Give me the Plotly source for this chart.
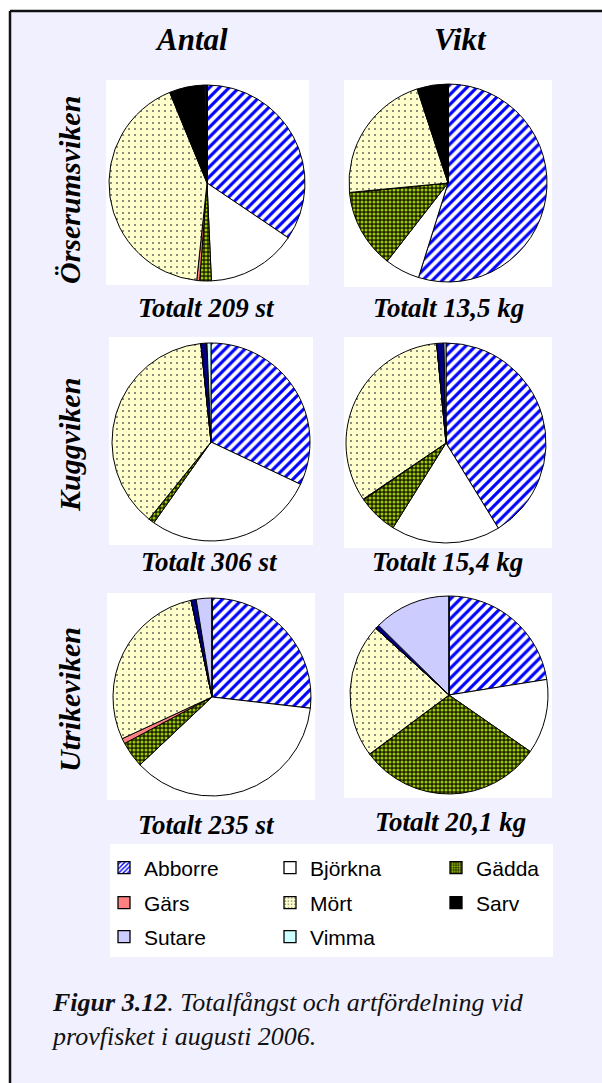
import plotly.graph_objects as go

W, H = 602, 1083

# ---------------- data ----------------
species = ["Abborre", "Björkna", "Gädda", "Gärs", "Mört", "Sarv", "Övriga", "Sutare", "Vimma"]
legend_species = ["Abborre", "Björkna", "Gädda", "Gärs", "Mört", "Sarv", "Sutare", "Vimma"]

antal_orserumsviken = [72, 31, 4, 1, 88, 12, 1, 0, 0]
vikt_orserumsviken = [7.40, 0.77, 1.74, 0.01, 2.90, 0.68, 0.0, 0.0, 0.0]
antal_kuggviken = [98, 85, 3, 0, 115, 0, 3, 0, 2]
vikt_kuggviken = [6.35, 2.72, 1.00, 0.02, 5.08, 0.0, 0.18, 0.0, 0.05]
antal_utrikeviken = [63, 85, 10, 2, 67, 0, 2, 6, 0]
vikt_utrikeviken = [4.52, 2.45, 6.05, 0.01, 4.41, 0.0, 0.13, 2.53, 0.0]

col_titles = ["Antal", "Vikt"]
row_titles = ["Örserumsviken", "Kuggviken", "Utrikeviken"]
totals = [["Totalt 209 st", "Totalt 13,5 kg"],
          ["Totalt 306 st", "Totalt 15,4 kg"],
          ["Totalt 235 st", "Totalt 20,1 kg"]]
caption = "<b>Figur 3.12</b>. Totalfångst och artfördelning vid<br>provfisket i augusti 2006."

# ---------------- styles ----------------
colors = {"Abborre": "#FFFFFF", "Björkna": "#FFFFFF", "Gädda": "#222200", "Gärs": "#FF8080",
          "Mört": "#FFFFCC", "Sarv": "#000000", "Övriga": "#000080", "Sutare": "#CCCCFF",
          "Vimma": "#CCFFFF"}
pshape = {"Abborre": "/", "Gädda": ".", "Mört": "."}
pfg = {"Abborre": "#0000FF", "Gädda": "#99CC00", "Mört": "#555555"}
psize = {"Abborre": 7, "Gädda": 4, "Mört": 6}
psol = {"Abborre": 0.45, "Gädda": 0.45, "Mört": 0.07}


def pattern_for(names):
    return dict(
        shape=[pshape.get(n, "") for n in names],
        fgcolor=[pfg.get(n, "#000000") for n in names],
        bgcolor=[colors[n] for n in names],
        size=[psize.get(n, 8) for n in names],
        solidity=[psol.get(n, 0.3) for n in names],
        fillmode="replace",
    )


def px_x(x):
    return x / W


def px_y(y):
    return 1 - y / H


fig = go.Figure()

# background frame
fig.add_shape(type="rect", xref="paper", yref="paper", x0=px_x(10), x1=1.0, y0=0, y1=px_y(11),
              fillcolor="#F0F0FF", line=dict(width=0), layer="below")
fig.add_shape(type="line", xref="paper", yref="paper", x0=px_x(10), x1=1.0, y0=px_y(11), y1=px_y(11),
              line=dict(color="#111111", width=2.5), layer="below")
fig.add_shape(type="line", xref="paper", yref="paper", x0=px_x(10), x1=px_x(10), y0=0, y1=px_y(11),
              line=dict(color="#111111", width=2.5), layer="below")

# pie cells: (values, centre x, centre y, radius, white box)
cells = [
    (antal_orserumsviken, 207, 183, 98, (106, 80, 309, 285)),
    (vikt_orserumsviken, 448, 183, 99, (344, 80, 552, 287)),
    (antal_kuggviken, 211, 442, 99, (109, 337, 313, 545)),
    (vikt_kuggviken, 446, 443, 100, (344, 337, 552, 548)),
    (antal_utrikeviken, 212, 697, 99, (107, 593, 315, 800)),
    (vikt_utrikeviken, 449, 695, 99, (344, 593, 552, 798)),
]

for vals, cx, cy, r, box in cells:
    bx0, by0, bx1, by1 = box
    fig.add_shape(type="rect", xref="paper", yref="paper", x0=px_x(bx0), x1=px_x(bx1),
                  y0=px_y(by1), y1=px_y(by0), fillcolor="white", line=dict(width=0), layer="below")
    fig.add_trace(go.Pie(
        labels=species, values=vals, sort=False, direction="clockwise", rotation=0,
        textinfo="none", showlegend=False, hoverinfo="label+value",
        marker=dict(colors=[colors[n] for n in species], pattern=pattern_for(species),
                    line=dict(color="black", width=1)),
        domain=dict(x=[px_x(cx - r), px_x(cx + r)], y=[px_y(cy + r), px_y(cy - r)]),
    ))

# legend box
fig.add_shape(type="rect", xref="paper", yref="paper", x0=px_x(110), x1=px_x(553),
              y0=px_y(957), y1=px_y(844), fillcolor="white", line=dict(width=0), layer="below")

# legend entries via dummy bars (kept off the hidden axes' range), one legend per row
legend_rows = [legend_species[0:3], legend_species[3:6], legend_species[6:8]]
row_y = [868, 903, 937]
for i, row in enumerate(legend_rows):
    lname = "legend" if i == 0 else f"legend{i + 1}"
    for n in row:
        fig.add_trace(go.Bar(
            x=[0], y=[0], name=n, legend=lname, showlegend=True, hoverinfo="skip",
            marker=dict(color=colors[n],
                        pattern=dict(shape=pshape.get(n, ""), fgcolor=pfg.get(n, "#000"),
                                     bgcolor=colors[n], size=4 if n != "Gädda" else 3,
                                     solidity=0.45 if n != "Mört" else 0.15, fillmode="replace"),
                        line=dict(color="black", width=1.3)),
        ))

legend_common = dict(orientation="h", xanchor="left", yanchor="middle",
                     bgcolor="rgba(0,0,0,0)", borderwidth=0,
                     font=dict(family="Liberation Sans, Arial, sans-serif", size=21, color="black"),
                     entrywidth=121, entrywidthmode="pixels", itemclick=False, itemdoubleclick=False)

annotations = []
serif = "Liberation Serif, Times New Roman, serif"
for j, t in enumerate(col_titles):
    annotations.append(dict(text=t, x=px_x([191, 460][j]), y=px_y(40), xref="paper", yref="paper",
                            showarrow=False, xanchor="center", yanchor="middle",
                            font=dict(family=serif, size=31, color="black", weight="bold", style="italic")))
for i, t in enumerate(row_titles):
    annotations.append(dict(text=t, x=px_x(69), y=px_y([190, 445, 700][i]), xref="paper", yref="paper",
                            showarrow=False, xanchor="center", yanchor="middle", textangle=-90,
                            font=dict(family=serif, size=30, color="black", weight="bold", style="italic")))
tot_pos = [[(206, 308), (449, 308)], [(209, 562), (447, 562)], [(206, 825), (450, 822)]]
for i in range(3):
    for j in range(2):
        x, y = tot_pos[i][j]
        annotations.append(dict(text=totals[i][j], x=px_x(x), y=px_y(y), xref="paper", yref="paper",
                                showarrow=False, xanchor="center", yanchor="middle",
                                font=dict(family=serif, size=27, color="black", weight="bold", style="italic")))
annotations.append(dict(text=caption, x=px_x(49), y=px_y(1019), xref="paper", yref="paper",
                        showarrow=False, xanchor="left", yanchor="middle", align="left",
                        font=dict(family=serif, size=26, color="#111111", style="italic")))

layout_legends = {}
for i in range(3):
    key = "legend" if i == 0 else f"legend{i + 1}"
    layout_legends[key] = dict(legend_common, x=px_x(104), y=px_y(row_y[i]))

fig.update_layout(
    width=W, height=H, autosize=False,
    margin=dict(l=0, r=0, t=0, b=0),
    paper_bgcolor="white", plot_bgcolor="rgba(0,0,0,0)",
    xaxis=dict(visible=False, range=[10, 11], fixedrange=True),
    yaxis=dict(visible=False, range=[10, 11], fixedrange=True),
    annotations=annotations,
    **layout_legends,
)

fig.write_html("out.html")
